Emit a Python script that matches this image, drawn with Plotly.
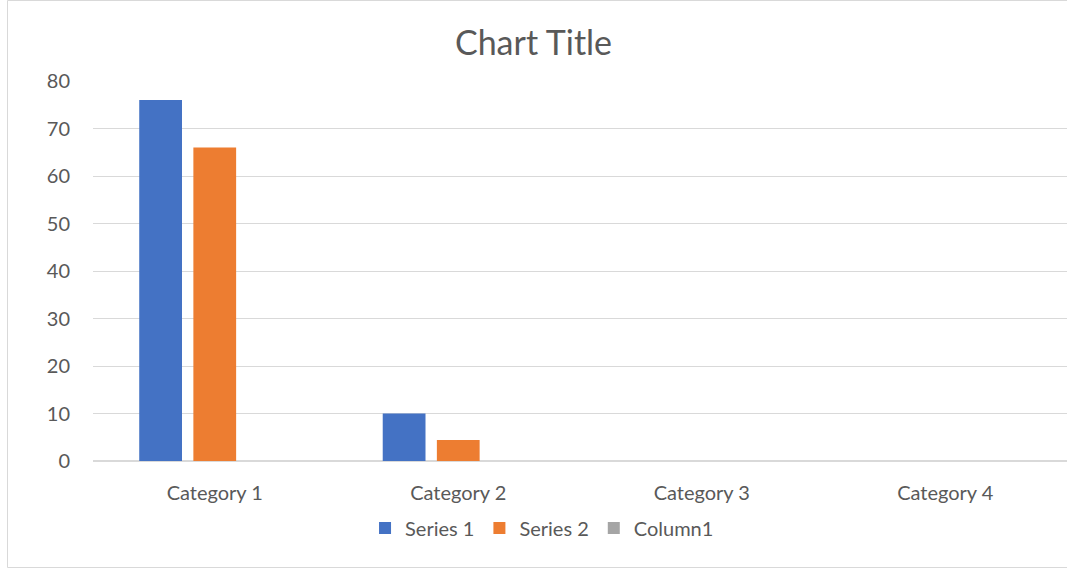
import plotly.graph_objects as go

categories = ["Category 1", "Category 2", "Category 3", "Category 4"]
series1 = [76, 10, None, None]
series2 = [66, 4.4, None, None]
column1 = [None, None, None, None]
y_ticks = [0, 10, 20, 30, 40, 50, 60, 70, 80]

FONT = "Lato"
TXT = "#595959"
GRID = "#d9d9d9"

fig = go.Figure()
fig.add_bar(name="Series 1", x=categories, y=series1, marker_color="#4472C4", marker_line_width=0)
fig.add_bar(name="Series 2", x=categories, y=series2, marker_color="#ED7D31", marker_line_width=0)
fig.add_bar(name="Column1", x=categories, y=column1, marker_color="#A5A5A5", marker_line_width=0)

W, H = 1067, 569
L, R, T, B = 93, 0, 81, 108
pw, ph = W - L - R, H - T - B

# chart border in paper coords
fig.add_shape(type="rect", xref="paper", yref="paper",
              x0=(7.5 - L) / pw, x1=(W + 5 - L) / pw,
              y0=(H - B - 567.5) / ph, y1=(H - B - 0.5) / ph,
              line=dict(color=GRID, width=1), fillcolor="rgba(0,0,0,0)", layer="below")

fig.update_layout(
    width=W, height=H,
    margin=dict(l=L, r=R, t=T, b=B),
    paper_bgcolor="white", plot_bgcolor="white",
    barmode="group", bargap=0.333, bargroupgap=0.21,
    font=dict(family=FONT, color=TXT, size=20),
    title=dict(text="Chart Title", x=0.5, xref="container", xanchor="center",
               y=1 - 43 / H, yref="container", yanchor="middle",
               font=dict(family=FONT, size=34, color=TXT)),
    legend=dict(orientation="h", x=0.508, xanchor="center", xref="container",
                y=1 - 528 / H, yref="container", yanchor="middle",
                font=dict(family=FONT, size=20, color=TXT), itemclick=False),
    xaxis=dict(showgrid=False, showline=True, linecolor=GRID, linewidth=1,
               ticks="", tickfont=dict(family=FONT, size=20, color=TXT),
               ticklabelstandoff=14),
    yaxis=dict(range=[0, 80], tickvals=y_ticks, showgrid=True, gridcolor=GRID, gridwidth=1,
               zeroline=True, zerolinecolor=GRID, showline=False, ticks="",
               tickfont=dict(family=FONT, size=20, color=TXT), ticklabelstandoff=22),
)

fig.write_html("out.html", config={"displayModeBar": False},
               post_script="document.body.style.margin='0';document.body.style.overflow='hidden';")
